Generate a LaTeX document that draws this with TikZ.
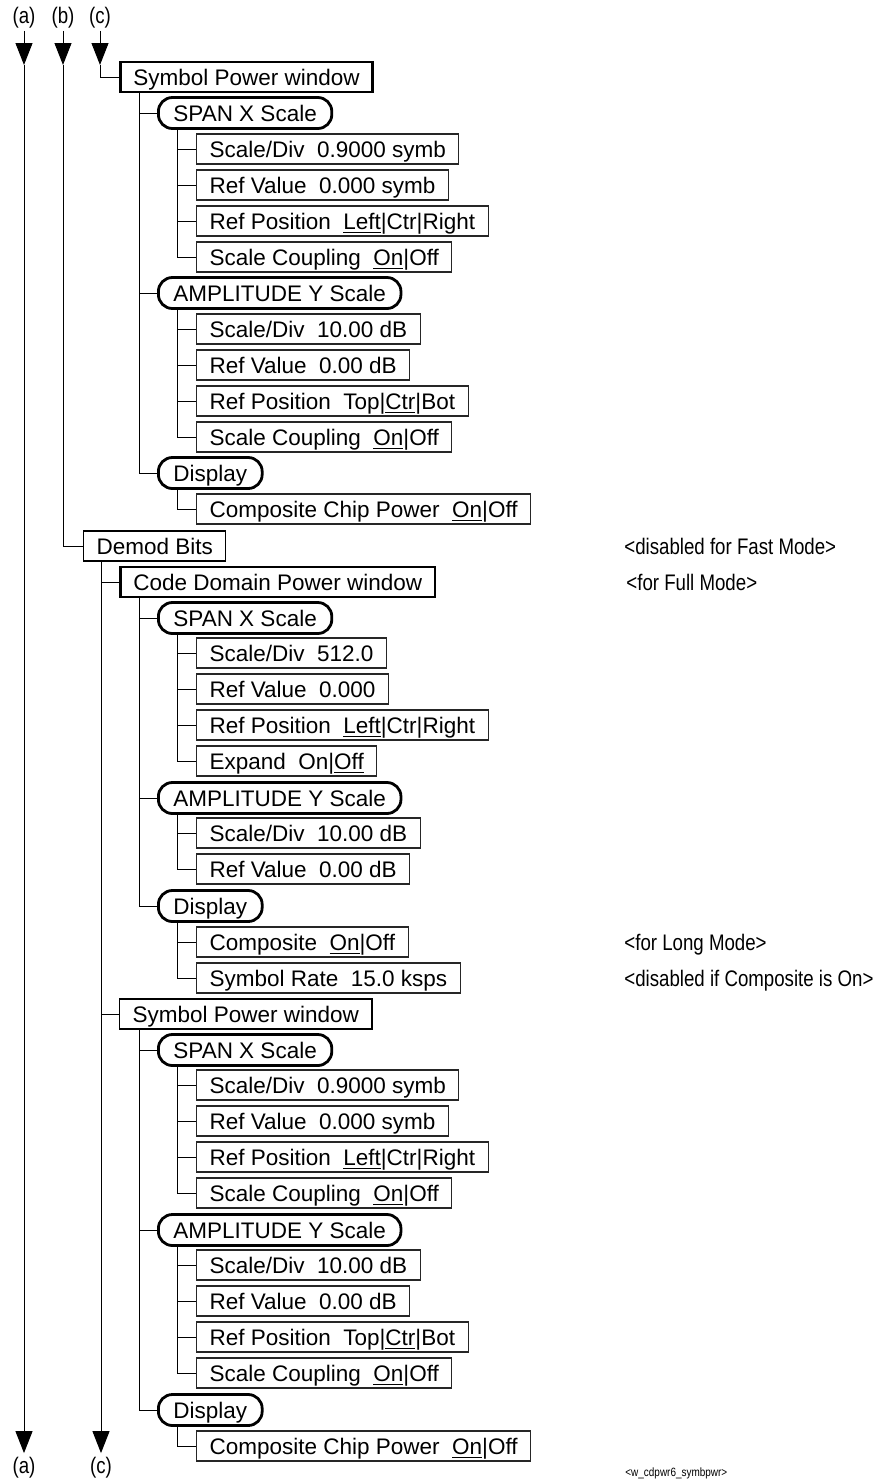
\documentclass[tikz,border=0pt]{standalone}
\usepackage{fontspec}
\setmainfont{Liberation Sans}
\newfontfamily\narrowfont[FakeStretch=0.83]{Liberation Sans}
\usetikzlibrary{arrows.meta}

\tikzset{
  every node/.style={font=\fontsize{11.25pt}{13pt}\selectfont, text height=8pt, text depth=0pt},
  winbox/.style={draw, anchor=west, line width=1.3pt, minimum height=15pt, inner xsep=6.5pt, inner ysep=0pt},
  menubox/.style={draw, anchor=west, line width=0.6pt, minimum height=15pt, inner xsep=6.5pt, inner ysep=0pt},
  softkey/.style={draw, anchor=west, line width=1.4pt, rounded corners=7pt, minimum height=15.5pt, inner xsep=7.5pt, inner ysep=0pt},
  leaf/.style={draw=black!85, anchor=west, line width=0.55pt, minimum height=15pt, inner xsep=6.5pt, inner ysep=0pt},
  note/.style={anchor=west, inner sep=0pt, font=\narrowfont\fontsize{11.25pt}{13pt}\selectfont},
  lbl/.style={inner sep=1pt, text height=9pt, text depth=2.5pt, font=\narrowfont\fontsize{11.25pt}{13pt}\selectfont},
  arr/.style={-{Triangle[length=11pt,width=8.5pt]}},
  wire/.style={line width=0.5pt}
}

\begin{document}
\begin{tikzpicture}[x=0.5pt,y=0.5pt]
  \useasboundingbox (0,0) rectangle (877,-1479);

  % column labels and entry arrows
  \node[lbl] (la) at (24,-17) {(a)};
  \node[lbl] (lb) at (63,-17) {(b)};
  \node[lbl] (lc) at (100,-17) {(c)};
  \coordinate (a1) at (24,-65);
  \coordinate (b1) at (63,-65);
  \coordinate (c1) at (100,-65);
  \draw[wire,arr] (la) -- (a1);
  \draw[wire,arr] (lb) -- (b1);
  \draw[wire,arr] (lc) -- (c1);

  % First Symbol Power window (c)
  \node[winbox] (spw1) at (119,-77) {Symbol Power window};
  \draw[wire] (c1) |- (spw1.west);
  \node[softkey] (spanA) at (157,-113) {SPAN X Scale};
  \node[softkey] (amplA) at (157,-293) {AMPLITUDE Y Scale};
  \node[softkey] (dispA) at (157,-473) {Display};
  \foreach \s in {spanA,amplA,dispA}
    \draw[wire] ([xshift=10pt]spw1.south west) |- (\s.west);

  \foreach \t [count=\i from 2] in {{Scale/Div\ \ 0.9000 symb},{Ref Value\ \ 0.000 symb},
      {Ref Position\ \ \underline{Left}|Ctr|Right},{Scale Coupling\ \ \underline{On}|Off}}{
    \node[leaf] (k\i) at (196,{-77-36*\i}) {\t};
    \draw[wire] ([xshift=10pt]spanA.south west) |- (k\i.west);
  }
  \foreach \t [count=\i from 7] in {{Scale/Div\ \ 10.00 dB},{Ref Value\ \ 0.00 dB},
      {Ref Position\ \ Top|\underline{Ctr}|Bot},{Scale Coupling\ \ \underline{On}|Off}}{
    \node[leaf] (k\i) at (196,{-77-36*\i}) {\t};
    \draw[wire] ([xshift=10pt]amplA.south west) |- (k\i.west);
  }
  \node[leaf] (k12) at (196,-509) {Composite Chip Power\ \ \underline{On}|Off};
  \draw[wire] ([xshift=10pt]dispA.south west) |- (k12.west);

  % Demod Bits (b)
  \node[menubox] (demod) at (83,-546) {Demod Bits};
  \draw[wire] (b1) |- (demod.west);
  \node[note] (n1) at (624,-546) {<disabled for Fast Mode>};

  % Code Domain Power window
  \node[winbox] (cdp) at (119,-582) {Code Domain Power window};
  \node[note] (n2) at (626,-582) {<for Full Mode>};
  \node[softkey] (spanB) at (157,-618) {SPAN X Scale};
  \node[softkey] (amplB) at (157,-798) {AMPLITUDE Y Scale};
  \node[softkey] (dispB) at (157,-906) {Display};
  \foreach \s in {spanB,amplB,dispB}
    \draw[wire] ([xshift=10pt]cdp.south west) |- (\s.west);

  \foreach \t [count=\i from 16] in {{Scale/Div\ \ 512.0},{Ref Value\ \ 0.000},
      {Ref Position\ \ \underline{Left}|Ctr|Right},{Expand\ \ On|\underline{Off}}}{
    \node[leaf] (k\i) at (196,{-77-36*\i}) {\t};
    \draw[wire] ([xshift=10pt]spanB.south west) |- (k\i.west);
  }
  \foreach \t [count=\i from 21] in {{Scale/Div\ \ 10.00 dB},{Ref Value\ \ 0.00 dB}}{
    \node[leaf] (k\i) at (196,{-77-36*\i}) {\t};
    \draw[wire] ([xshift=10pt]amplB.south west) |- (k\i.west);
  }
  \node[leaf] (k24) at (196,-942) {Composite\ \ \underline{On}|Off};
  \node[leaf] (k25) at (196,-978) {Symbol Rate\ \ 15.0 ksps};
  \draw[wire] ([xshift=10pt]dispB.south west) |- (k24.west);
  \draw[wire] ([xshift=10pt]dispB.south west) |- (k25.west);
  \node[note] (n3) at (624,-942) {<for Long Mode>};
  \node[note] (n4) at (624,-978) {<disabled if Composite is On>};

  % Second Symbol Power window
  \node[menubox] (spw2) at (119,-1014) {Symbol Power window};
  \node[softkey] (spanC) at (157,-1050) {SPAN X Scale};
  \node[softkey] (amplC) at (157,-1230) {AMPLITUDE Y Scale};
  \node[softkey] (dispC) at (157,-1410) {Display};
  \foreach \s in {spanC,amplC,dispC}
    \draw[wire] ([xshift=10pt]spw2.south west) |- (\s.west);

  \foreach \t [count=\i from 28] in {{Scale/Div\ \ 0.9000 symb},{Ref Value\ \ 0.000 symb},
      {Ref Position\ \ \underline{Left}|Ctr|Right},{Scale Coupling\ \ \underline{On}|Off}}{
    \node[leaf] (k\i) at (196,{-77-36*\i}) {\t};
    \draw[wire] ([xshift=10pt]spanC.south west) |- (k\i.west);
  }
  \foreach \t [count=\i from 33] in {{Scale/Div\ \ 10.00 dB},{Ref Value\ \ 0.00 dB},
      {Ref Position\ \ Top|\underline{Ctr}|Bot},{Scale Coupling\ \ \underline{On}|Off}}{
    \node[leaf] (k\i) at (196,{-77-36*\i}) {\t};
    \draw[wire] ([xshift=10pt]amplC.south west) |- (k\i.west);
  }
  \node[leaf] (k38) at (196,-1446) {Composite Chip Power\ \ \underline{On}|Off};
  \draw[wire] ([xshift=10pt]dispC.south west) |- (k38.west);

  % exit arrows
  \node[lbl] (la2) at (24,-1467) {(a)};
  \node[lbl] (lc2) at (101,-1467) {(c)};
  \draw[wire,arr] (a1) -- (la2);
  \draw[wire] ([xshift=9pt]demod.south west) |- (cdp.west);
  \draw[wire] ([xshift=9pt]demod.south west) |- (spw2.west);
  \draw[wire,arr] ([xshift=9pt]demod.south west) -- (lc2);

  \node[note, font=\narrowfont\fontsize{6pt}{7pt}\selectfont] (tagname) at (625,-1468) {<w\_cdpwr6\_symbpwr>};
\end{tikzpicture}
\end{document}
